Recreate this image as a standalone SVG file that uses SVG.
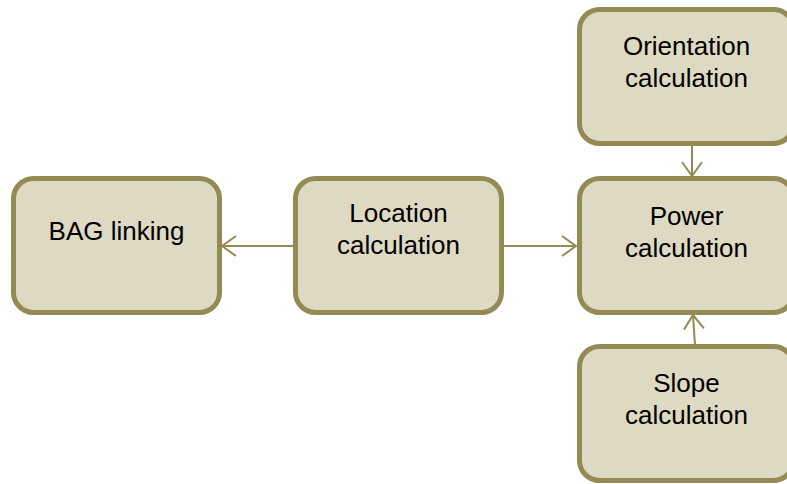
<svg xmlns="http://www.w3.org/2000/svg" width="787" height="484" viewBox="0 0 787 484">
<style>
.box{fill:#DDD9C3;stroke:#948A54;stroke-width:5}
.lbl{font-family:"Liberation Sans",Arial,sans-serif;font-size:26px;fill:#000;text-anchor:middle}
.conn{stroke:#948A54;stroke-width:2;fill:none}
</style>
<defs>
<marker id="arr" viewBox="0 0 16 22" refX="15" refY="11" markerWidth="16" markerHeight="22" markerUnits="userSpaceOnUse" orient="auto">
<path d="M1,1 L15,11 L1,21" fill="none" stroke="#948A54" stroke-width="2"/>
</marker>
</defs>
<g id="connectors">
<line class="conn" x1="294" y1="246" x2="222" y2="246" marker-end="url(#arr)"/>
<line class="conn" x1="503" y1="246" x2="576" y2="246" marker-end="url(#arr)"/>
<line class="conn" x1="692" y1="146" x2="692" y2="176" marker-end="url(#arr)"/>
<line class="conn" x1="695" y1="345" x2="693" y2="315" marker-end="url(#arr)"/>
</g>
<g id="bag">
<rect class="box" x="13.5" y="178.5" width="206" height="134" rx="20"/>
<text class="lbl" x="116.5" y="240">BAG linking</text>
</g>
<g id="location">
<rect class="box" x="295.5" y="178.5" width="206" height="134" rx="20"/>
<text class="lbl" x="398.5" y="222">Location</text>
<text class="lbl" x="398.5" y="253.5">calculation</text>
</g>
<g id="orientation">
<rect class="box" x="579.5" y="9.5" width="214" height="134" rx="20"/>
<text class="lbl" x="686.5" y="55">Orientation</text>
<text class="lbl" x="686.5" y="87">calculation</text>
</g>
<g id="power">
<rect class="box" x="579.5" y="178.5" width="214" height="134" rx="20"/>
<text class="lbl" x="686.5" y="225">Power</text>
<text class="lbl" x="686.5" y="256.5">calculation</text>
</g>
<g id="slope">
<rect class="box" x="579.5" y="346.5" width="214" height="134" rx="20"/>
<text class="lbl" x="686.5" y="392">Slope</text>
<text class="lbl" x="686.5" y="423.5">calculation</text>
</g>
</svg>
